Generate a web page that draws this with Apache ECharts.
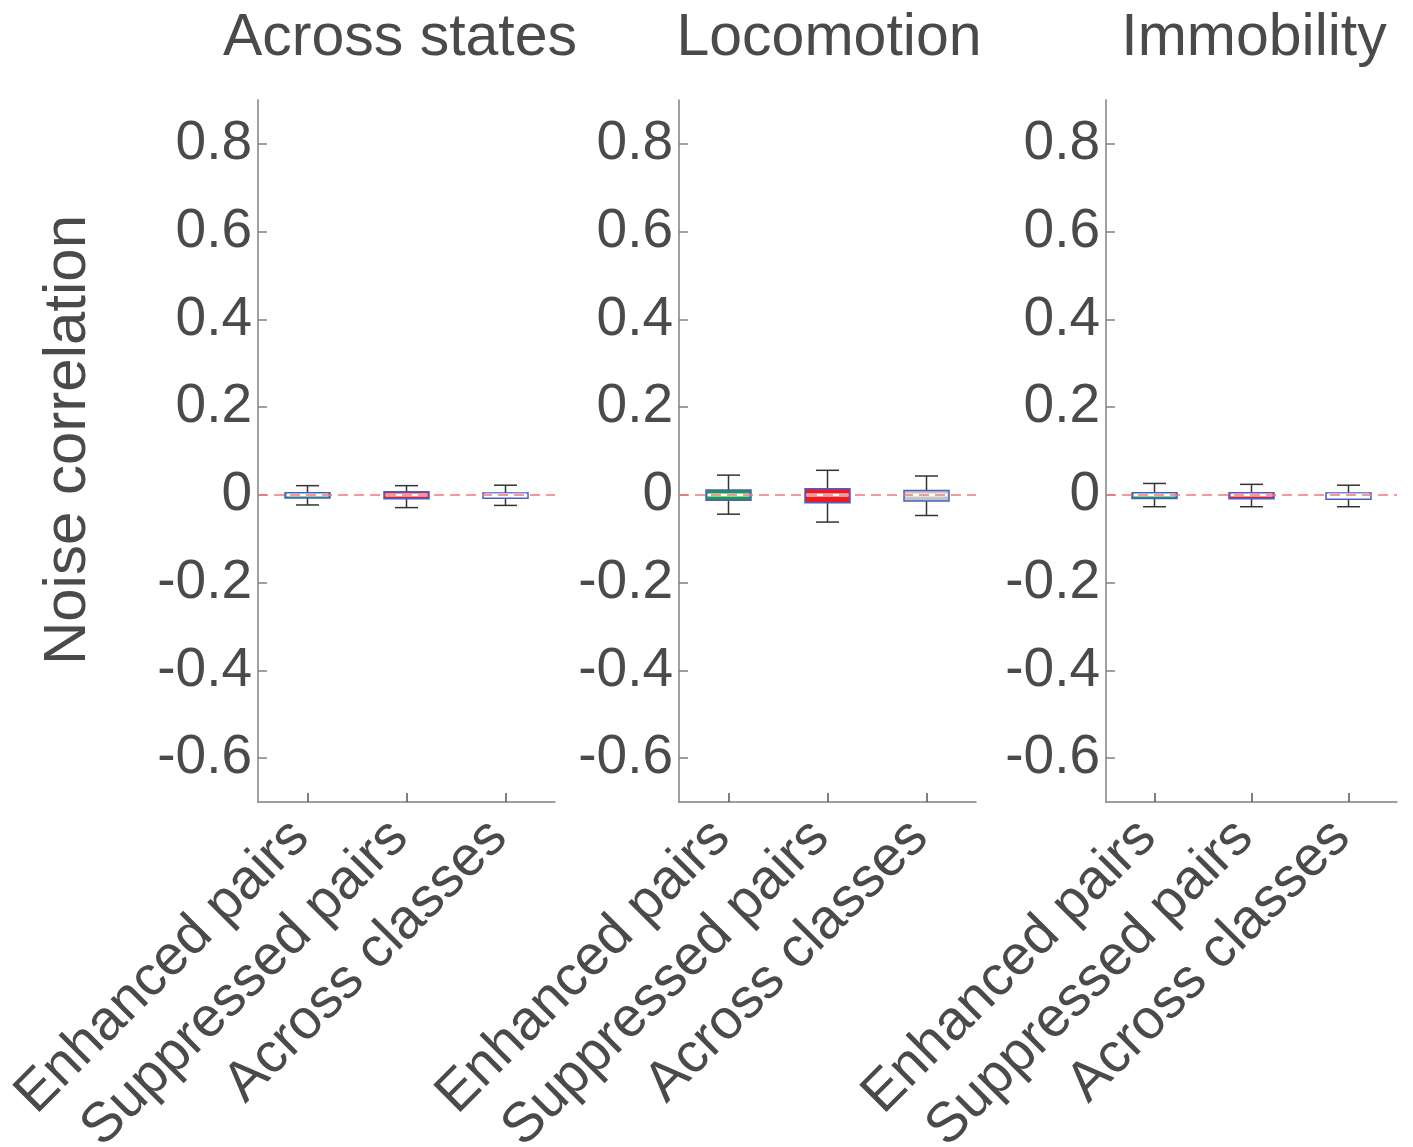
<!DOCTYPE html>
<html>
<head>
<meta charset="utf-8">
<script src="https://cdn.jsdelivr.net/npm/echarts@6/dist/echarts.min.js"></script>
<style>
html,body{margin:0;padding:0;background:#fff;}
#chart{width:1413px;height:1147px;}
</style>
</head>
<body>
<div id="chart"></div>
<script>
// ---- data ----
const panelTitles = ['Across states', 'Locomotion', 'Immobility'];
const categories = ['Enhanced pairs', 'Suppressed pairs', 'Across classes'];
const yTickValues = [-0.6, -0.4, -0.2, 0, 0.2, 0.4, 0.6, 0.8];
// each box: [low whisker, q1, median, q3, high whisker]
const acrossStatesBoxes = [
  [-0.023, -0.007, 0, 0.005, 0.021],
  [-0.029, -0.009, 0, 0.007, 0.021],
  [-0.024, -0.0075, 0, 0.004, 0.022]
];
const locomotionBoxes = [
  [-0.044, -0.012, 0, 0.011, 0.045],
  [-0.062, -0.018, 0, 0.014, 0.056],
  [-0.047, -0.014, 0, 0.010, 0.043]
];
const immobilityBoxes = [
  [-0.027, -0.008, 0, 0.005, 0.026],
  [-0.027, -0.009, 0, 0.005, 0.024],
  [-0.027, -0.010, 0, 0.004, 0.022]
];
const panelBoxes = [acrossStatesBoxes, locomotionBoxes, immobilityBoxes];
const boxFills = [
  ['#1b9a4e', '#d81f3c', '#ffffff'],
  ['#1b9a4e', '#ec1c24', '#c4c4c4'],
  ['#1b9a4e', '#d81f3c', '#ffffff']
];

// ---- layout ----
const FONT = '"Liberation Sans", Arial, Helvetica, sans-serif';
const TEXT = '#4a4a4a';
const AXIS = '#808080';
const grids = [
  {left: 258, top: 100, width: 297, height: 702},
  {left: 679, top: 100, width: 297, height: 702},
  {left: 1106, top: 100, width: 291, height: 702}
];
const titleCenters = [395, 824, 1249];

const chart = echarts.init(document.getElementById('chart'), null, {renderer: 'canvas'});

function renderBox(fills) {
  return function (params, api) {
    const c = api.value(0);
    const low = api.value(1), q1 = api.value(2), med = api.value(3), q3 = api.value(4), high = api.value(5);
    const pLow = api.coord([c, low]);
    const pQ1 = api.coord([c, q1]);
    const pMed = api.coord([c, med]);
    const pQ3 = api.coord([c, q3]);
    const pHigh = api.coord([c, high]);
    const x = pMed[0];
    const hw = 22.5, cw = 11.5;
    const wStyle = {stroke: '#333333', lineWidth: 1.5};
    return {
      type: 'group',
      children: [
        {type: 'line', shape: {x1: x, y1: pQ3[1], x2: x, y2: pHigh[1]}, style: wStyle},
        {type: 'line', shape: {x1: x, y1: pQ1[1], x2: x, y2: pLow[1]}, style: wStyle},
        {type: 'line', shape: {x1: x - cw, y1: pHigh[1], x2: x + cw, y2: pHigh[1]}, style: wStyle},
        {type: 'line', shape: {x1: x - cw, y1: pLow[1], x2: x + cw, y2: pLow[1]}, style: wStyle},
        {type: 'rect', shape: {x: x - hw, y: pQ3[1], width: 2 * hw, height: pQ1[1] - pQ3[1]},
          style: {fill: fills[params.dataIndex], stroke: '#4a5fc1', lineWidth: 1.5}},
        {type: 'line', shape: {x1: x - hw + 1.5, y1: pMed[1], x2: x + hw - 1.5, y2: pMed[1]},
          style: {stroke: '#ffffff', lineWidth: 3}}
      ]
    };
  };
}

const option = {
  backgroundColor: '#ffffff',
  animation: false,
  title: panelTitles.map((t, i) => ({
    text: t,
    left: titleCenters[i],
    textAlign: 'center',
    top: 4,
    textStyle: {fontFamily: FONT, fontSize: 59, fontWeight: 'normal', color: TEXT}
  })),
  grid: grids.map(g => Object.assign({containLabel: false, outerBoundsMode: 'none'}, g)),
  xAxis: grids.map((g, i) => ({
    type: 'category',
    gridIndex: i,
    data: categories,
    boundaryGap: true,
    axisLine: {show: true, onZero: false, lineStyle: {color: AXIS, width: 1.5}},
    axisTick: {show: true, inside: true, alignWithLabel: true, length: 9, lineStyle: {color: '#555', width: 1.5}},
    axisLabel: {rotate: 45, fontFamily: FONT, fontSize: 56, color: TEXT, margin: 20, interval: 0, padding: [0, 10, 0, 0]},
    splitLine: {show: false}
  })),
  yAxis: grids.map((g, i) => ({
    type: 'value',
    gridIndex: i,
    min: -0.7,
    max: 0.9,
    name: i === 0 ? 'Noise correlation' : '',
    nameLocation: 'middle',
    nameGap: 160,
    nameTextStyle: {fontFamily: FONT, fontSize: 60, color: TEXT, padding: [0, 0, 0, 22]},
    axisLine: {show: true, lineStyle: {color: AXIS, width: 1.5}},
    axisTick: {show: true, inside: true, length: 9, customValues: yTickValues, lineStyle: {color: AXIS, width: 1.5}},
    axisLabel: {
      customValues: yTickValues,
      fontFamily: FONT, fontSize: 55, color: TEXT, margin: 6,
      formatter: v => {
        const r = Math.round(v * 10) / 10;
        return r === 0 ? '0' : String(r);
      }
    },
    splitLine: {show: false}
  })),
  series: panelBoxes.map((boxes, i) => ({
    type: 'custom',
    xAxisIndex: i,
    yAxisIndex: i,
    z: 2,
    renderItem: renderBox(boxFills[i]),
    encode: {x: 0, y: [1, 2, 3, 4, 5]},
    data: boxes.map((b, k) => [k].concat(b)),
    markLine: {
      silent: true,
      symbol: 'none',
      label: {show: false},
      z: 10,
      lineStyle: {color: '#f07878', type: [10, 6], width: 1.6},
      emphasis: {disabled: true},
      data: [{yAxis: 0}]
    }
  }))
};
chart.setOption(option);
</script>
</body>
</html>
